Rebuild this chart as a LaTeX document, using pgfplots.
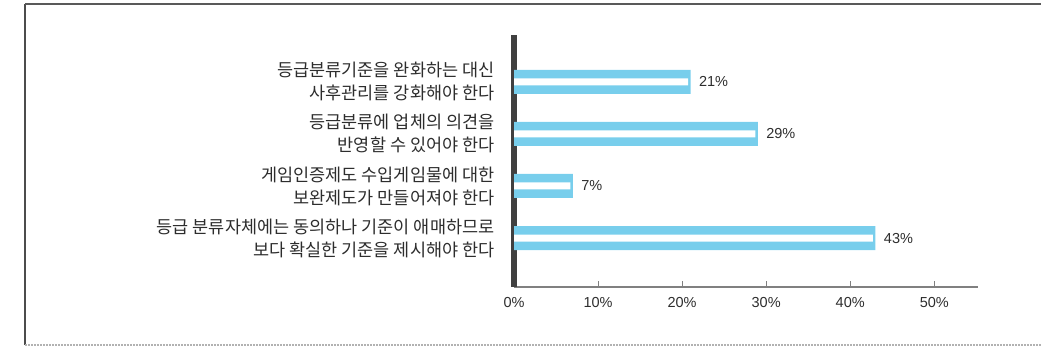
\documentclass[border=0pt]{standalone}
\usepackage{fontspec}
\setmainfont{Liberation Sans}
\newfontfamily\kr{Noto Sans CJK KR}
\usepackage{pgfplots}
\pgfplotsset{compat=1.18}

\definecolor{barcyan}{RGB}{120,206,236}
\definecolor{txt}{RGB}{45,45,45}

\begin{document}
\begin{tikzpicture}
\useasboundingbox (0,0) rectangle (1048pt,352pt);
% frame
\draw[line width=2.5pt, black!70] (25pt,348pt) -- (25pt,7pt);
\draw[line width=2pt, black!65] (25pt,348pt) -- (1041pt,348pt);
\draw[line width=2pt, black!30, densely dotted] (25pt,7pt) -- (1041pt,7pt);

\begin{axis}[
    at={(514pt,65pt)}, anchor=south west,
    scale only axis,
    width=464pt, height=252pt,
    xbar, bar width=24pt,
    xmin=0, xmax=55.2,
    ymin=-0.94, ymax=3.9,
    /pgf/number format/assume math mode=true,
    axis x line=bottom, axis y line=left,
    x axis line style={-, black!50, line width=1.5pt},
    y axis line style={-, black!75, line width=5.5pt},
    xtick={0,10,20,30,40,50},
    xticklabels={0\%,10\%,20\%,30\%,40\%,50\%},
    xticklabel style={font=\fontsize{14.5}{14}\selectfont, text=txt, yshift=-7pt},
    x tick style={black!50, line width=1pt},
    tick align=inside, major tick length=6pt,
    ytick={0,1,2,3},
    y tick style={draw=none},
    yticklabels={
      {등급 분류자체에는 동의하나 기준이 애매하므로\\보다 확실한 기준을 제시해야 한다},
      {게임인증제도 수입게임물에 대한\\보완제도가 만들어져야 한다},
      {등급분류에 업체의 의견을\\반영할 수 있어야 한다},
      {등급분류기준을 완화하는 대신\\사후관리를 강화해야 한다}},
    yticklabel style={align=right, font=\kr\fontsize{17.5}{23}\selectfont, text=txt, xshift=-16pt},
    nodes near coords={\pgfmathprintnumber{\pgfplotspointmeta}\%},
    nodes near coords style={font=\fontsize{14.5}{14}\selectfont, text=txt, anchor=west, xshift=5pt},
    point meta=x,
  ]
  \addplot[fill=barcyan, draw=none, bar shift=0pt]
    coordinates {(43,0) (7,1) (29,2) (21,3)};
  \addplot[fill=white, draw=none, bar width=7pt, bar shift=0pt, nodes near coords={}]
    coordinates {(42.7,0) (6.7,1) (28.7,2) (20.7,3)};
\end{axis}
\end{tikzpicture}
\end{document}
